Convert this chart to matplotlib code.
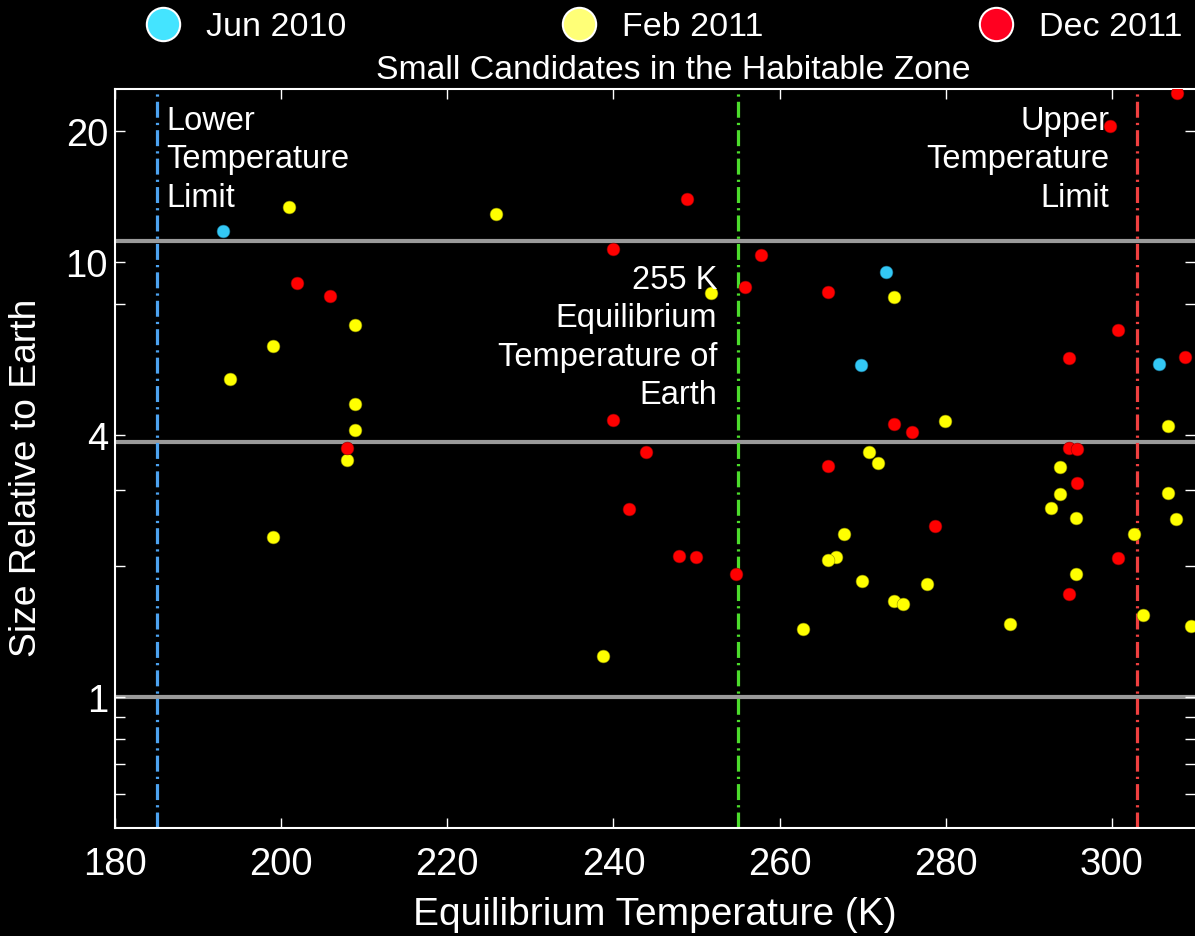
import matplotlib
matplotlib.use("Agg")
import matplotlib.pyplot as plt
from matplotlib.lines import Line2D
from matplotlib.ticker import FixedLocator, NullFormatter, FixedFormatter

plt.rcParams['font.family'] = ['Liberation Sans', 'DejaVu Sans']

# Kepler candidates: equilibrium temperature (K) and radius (Earth radii)
jun2010_temp = [193.0, 272.8, 269.8, 305.7]
jun2010_size = [11.8, 9.48, 5.80, 5.83]

feb2011_temp = [200.9, 225.9, 251.8, 273.8, 208.9, 199.0, 193.9, 208.9, 208.9, 279.9,
                306.8, 207.9, 270.8, 271.8, 293.8, 293.8, 292.7, 295.7, 306.7, 307.7,
                302.6, 267.8, 199.0, 266.8, 265.8, 269.9, 277.8, 295.7, 273.8, 274.9,
                303.8, 287.7, 262.8, 309.5, 238.7]
feb2011_size = [13.4, 12.9, 8.5, 8.3, 7.16, 6.41, 5.38, 4.72, 4.11, 4.31,
                4.20, 3.51, 3.66, 3.45, 3.38, 2.93, 2.72, 2.58, 2.94, 2.57,
                2.37, 2.37, 2.33, 2.10, 2.07, 1.85, 1.82, 1.92, 1.66, 1.64,
                1.54, 1.47, 1.43, 1.46, 1.24]

dec2011_temp = [307.8, 299.8, 248.8, 239.9, 257.8, 201.9, 205.9, 255.8, 265.8, 300.7,
                294.8, 308.8, 239.9, 273.8, 275.9, 207.9, 243.9, 294.8, 295.8, 265.8,
                295.8, 241.9, 278.7, 247.9, 249.9, 254.8, 300.7, 294.8]
dec2011_size = [24.5, 20.6, 14.0, 10.7, 10.4, 8.95, 8.36, 8.76, 8.53, 6.98,
                6.02, 6.04, 4.33, 4.24, 4.07, 3.74, 3.66, 3.74, 3.72, 3.40,
                3.10, 2.71, 2.47, 2.11, 2.10, 1.92, 2.09, 1.73]

# reference sizes: Earth, Neptune, Jupiter
ref_sizes = [1.0, 3.86, 11.2]
# temperature limits of the habitable zone and Earth's equilibrium temperature
lower_limit = 185
earth_temp = 255
upper_limit = 303

fig = plt.figure(figsize=(11.95, 9.37), dpi=100, facecolor='black')
ax = fig.add_axes([115 / 1195, 1 - 829 / 937, 1080 / 1195, 739 / 937])
ax.set_facecolor('black')

for r in ref_sizes:
    ax.axhline(r, color='#9a9a9a', lw=3, zorder=1)

dash = (5.0, 1.6, 0.7, 1.6)
ax.axvline(lower_limit, color='#4da3f0', lw=2.3, dashes=dash, zorder=1)
ax.axvline(earth_temp, color='#4cdc2c', lw=2.3, dashes=dash, zorder=1)
ax.axvline(upper_limit, color='#f04040', lw=2.3, dashes=dash, zorder=1)

ax.scatter(jun2010_temp, jun2010_size, s=85, color='#33c8f5', edgecolor='#1a7090', lw=0.4, zorder=3)
ax.scatter(feb2011_temp, feb2011_size, s=85, color='#ffff00', edgecolor='#8a8a00', lw=0.4, zorder=3)
ax.scatter(dec2011_temp, dec2011_size, s=85, color='#ff0000', edgecolor='#8a0000', lw=0.4, zorder=3)

ax.set_yscale('log')
ax.set_xlim(180, 310)
ax.set_ylim(0.5, 25)

ax.set_xticks([180, 200, 220, 240, 260, 280, 300])
ax.yaxis.set_major_locator(FixedLocator([1, 4, 10, 20]))
ax.yaxis.set_major_formatter(FixedFormatter(['1', '4', '10', '20']))
ax.yaxis.set_minor_locator(FixedLocator([0.6, 0.7, 0.8, 0.9, 2, 3, 8]))
ax.yaxis.set_minor_formatter(NullFormatter())

ax.tick_params(axis='both', which='both', direction='in', colors='white',
               top=True, right=True, width=1, length=7)
ax.tick_params(axis='x', labelsize=27.5, pad=13)
ax.tick_params(axis='y', labelsize=27.5, pad=5)

for side in ['left', 'bottom', 'top']:
    ax.spines[side].set_color('white')
    ax.spines[side].set_linewidth(1.5)
ax.spines['right'].set_visible(False)

ax.set_xlabel('Equilibrium Temperature (K)', color='white', fontsize=28, labelpad=10)
ax.set_ylabel('Size Relative to Earth', color='white', fontsize=26.8)
ax.yaxis.set_label_coords(-0.066, 0.475)
ax.set_title('Small Candidates in the Habitable Zone', color='white', fontsize=24.3,
             x=0.517, pad=8)

txt = dict(color='white', fontsize=23.5, linespacing=1.3, va='top')
ax.text(186.2, 0.978, 'Lower\nTemperature\nLimit', ha='left',
        transform=ax.get_xaxis_transform(), **txt)
ax.text(299.7, 0.978, 'Upper\nTemperature\nLimit', ha='right',
        multialignment='right', transform=ax.get_xaxis_transform(), **txt)
ax.text(252.5, 0.763, '255 K\nEquilibrium\nTemperature of\nEarth', ha='right',
        multialignment='right', transform=ax.get_xaxis_transform(), **txt)

handles = [Line2D([], [], ls='none', marker='o', ms=24, mfc=c, mec='white', mew=1.5)
           for c in ['#44e4ff', '#ffff77', '#ff0020']]
leg = fig.legend(handles, ['Jun 2010', 'Feb 2011', 'Dec 2011'], ncol=3,
                 loc='center', bbox_to_anchor=(664 / 1195, 1 - 28 / 937),
                 frameon=False, fontsize=24.5, handlelength=1.0, handletextpad=0.75,
                 columnspacing=6.35, borderpad=0)
for t in leg.get_texts():
    t.set_color('white')

fig.savefig('out.png', dpi=100, facecolor='black')
